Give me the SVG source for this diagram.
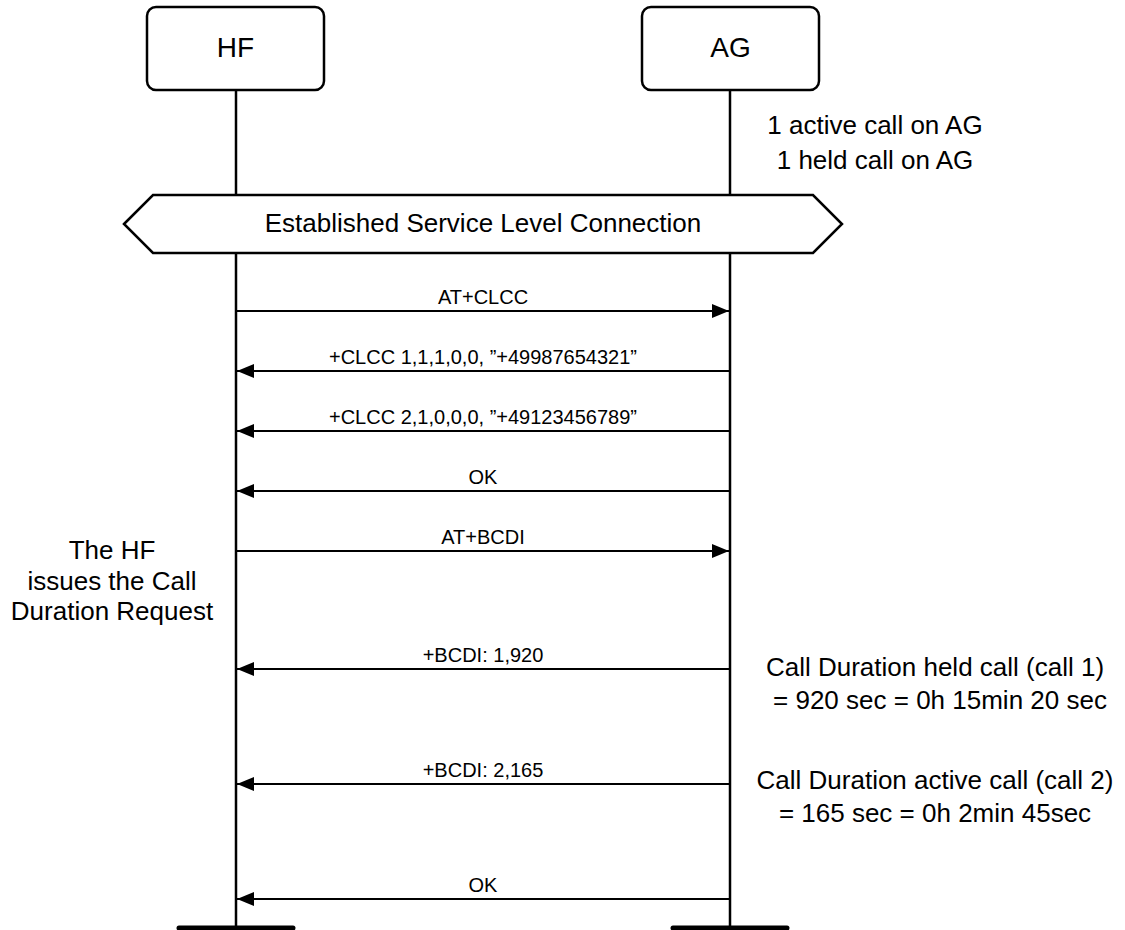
<svg xmlns="http://www.w3.org/2000/svg" width="1125" height="930" viewBox="0 0 1125 930">
<defs>
<style>
.box{fill:#fff;stroke:#000;stroke-width:2.5}
.life{stroke:#000;stroke-width:2.5;fill:none}
.msg{stroke:#000;stroke-width:2;fill:none}
.bar{stroke:#000;stroke-width:5;stroke-linecap:round}
text{font-family:"Liberation Sans",Arial,sans-serif;fill:#000;text-anchor:middle}
.big{font-size:28px}
.note{font-size:26px}
.lbl{font-size:20px}
</style>
<marker id="ah" viewBox="0 0 17 14" refX="17" refY="7" markerWidth="17" markerHeight="14" markerUnits="userSpaceOnUse" orient="auto">
<path d="M0,0 L17,7 L0,14 Z" fill="#000"/>
</marker>
</defs>
<rect width="1125" height="930" fill="#fff"/>
<g id="lifelines">
<line class="life" x1="236" y1="90" x2="236" y2="195"/>
<line class="life" x1="236" y1="253" x2="236" y2="928"/>
<line class="life" x1="730" y1="90" x2="730" y2="195"/>
<line class="life" x1="730" y1="253" x2="730" y2="928"/>
<line class="bar" x1="179" y1="928" x2="293" y2="928"/>
<line class="bar" x1="673" y1="928" x2="787" y2="928"/>
</g>
<g id="HF">
<rect class="box" x="147" y="7" width="177" height="83" rx="9"/>
<text class="big" x="235.5" y="57">HF</text>
</g>
<g id="AG">
<rect class="box" x="642" y="7" width="177" height="83" rx="9"/>
<text class="big" x="730.5" y="57">AG</text>
</g>
<g id="slc">
<polygon class="box" points="124,224 153,195 813,195 842,224 813,253 153,253"/>
<text class="note" x="483" y="232">Established Service Level Connection</text>
</g>
<g id="connectors">
<line class="msg" x1="236" y1="311" x2="729" y2="311" marker-end="url(#ah)"/>
<text class="lbl" x="483" y="304">AT+CLCC</text>
<line class="msg" x1="730" y1="371" x2="237" y2="371" marker-end="url(#ah)"/>
<text class="lbl" x="483" y="364">+CLCC 1,1,1,0,0, ”+49987654321”</text>
<line class="msg" x1="730" y1="431" x2="237" y2="431" marker-end="url(#ah)"/>
<text class="lbl" x="483" y="424">+CLCC 2,1,0,0,0, ”+49123456789”</text>
<line class="msg" x1="730" y1="491" x2="237" y2="491" marker-end="url(#ah)"/>
<text class="lbl" x="483" y="484">OK</text>
<line class="msg" x1="236" y1="551" x2="729" y2="551" marker-end="url(#ah)"/>
<text class="lbl" x="483" y="544">AT+BCDI</text>
<line class="msg" x1="730" y1="669" x2="237" y2="669" marker-end="url(#ah)"/>
<text class="lbl" x="483" y="662">+BCDI: 1,920</text>
<line class="msg" x1="730" y1="784" x2="237" y2="784" marker-end="url(#ah)"/>
<text class="lbl" x="483" y="777">+BCDI: 2,165</text>
<line class="msg" x1="730" y1="899" x2="237" y2="899" marker-end="url(#ah)"/>
<text class="lbl" x="483" y="892">OK</text>
</g>
<g id="notes">
<text class="note" x="875" y="134">1 active call on AG</text>
<text class="note" x="875" y="169">1 held call on AG</text>
<text class="note" x="112" y="559">The HF</text>
<text class="note" x="112" y="590">issues the Call</text>
<text class="note" x="112" y="620">Duration Request</text>
<text class="note" x="935" y="676">Call Duration held call (call 1)</text>
<text class="note" x="940" y="709">= 920 sec = 0h 15min 20 sec</text>
<text class="note" x="935" y="789">Call Duration active call (call 2)</text>
<text class="note" x="935" y="822">= 165 sec = 0h 2min 45sec</text>
</g>
</svg>
